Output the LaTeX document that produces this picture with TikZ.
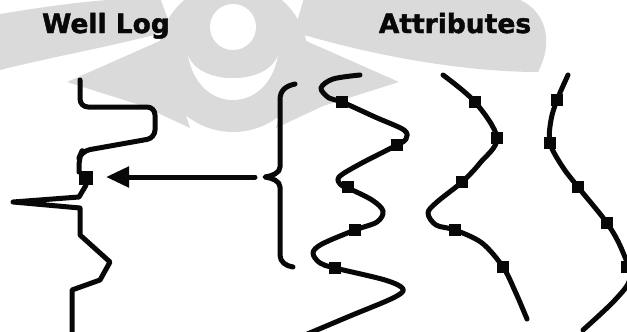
\documentclass[tikz,border=0pt]{standalone}
\usepackage{fontspec}
\setmainfont{DejaVu Sans}
\newfontfamily\titlefont[FakeBold=1.6]{DejaVu Sans Bold}
\usetikzlibrary{arrows.meta}
\definecolor{wm}{RGB}{218,218,218}
\definecolor{ink}{RGB}{8,8,8}
\begin{document}
\begin{tikzpicture}[x=1pt,y=-1pt,
  inkline/.style={draw=ink,line width=5pt,line cap=round,line join=round},
  sq/.style={fill=ink,inner sep=0pt,minimum size=12pt},
  title/.style={font=\titlefont\fontsize{26.5}{26.5}\selectfont,anchor=base,inner sep=0pt,text=ink}]
\useasboundingbox (0,0) rectangle (627,332);
\clip (0,0) rectangle (627,332);
% watermark
\fill[wm] (233,57) circle[radius=75pt];
\fill[white] (233,27) circle[radius=23pt];
\fill[white] (188,55) .. controls (198,115) and (268,115) .. (278,55) .. controls (268,86) and (198,86) .. (188,55) -- cycle;
\fill[wm] (0,14) .. controls (50,6) and (100,-2) .. (160,-2) -- (172,30) .. controls (120,45) and (60,55) .. (0,70) -- cycle;
\fill[wm] (67,82) -- (162,40) -- (190,128) -- (143,106) -- cycle;
\fill[wm] (304,-2) -- (515,-2) .. controls (545,8) and (555,40) .. (538,72) .. controls (470,72) and (380,58) .. (294,32) -- cycle;
\fill[wm] (399,82) -- (304,40) -- (276,128) -- (323,106) -- cycle;
% titles
\node[title] (wl) at (106,33) {Well Log};
\node[title] (at) at (455,33) {Attributes};
% well log
\draw[inkline,rounded corners=8pt] (80,80) -- (80,107) -- (155,107) -- (155,138) -- (82,151) -- (79,158) -- (79,172);
\node[sq,minimum size=14pt] (dot) at (86,178) {};
\draw[inkline] (dot.south) -- (79,197) -- (13,202) -- (80,208) -- (80,235) -- (110,262) -- (100,280) -- (72,290) -- (72,334);
\coordinate (lp) at (106,177);
% brace
\draw[inkline] (295,84) .. controls (286,86) and (280,90) .. (280,100) -- (280,167) .. controls (280,173) and (272,176) .. (265,177) .. controls (272,178) and (280,181) .. (280,187) -- (280,255) .. controls (280,262) and (286,266) .. (293,267);
\coordinate (bm) at (255,177);
\draw[inkline,-{Triangle[length=23pt,width=20pt]}] (bm) -- (lp);
% attribute curves
\draw[inkline] plot[smooth,tension=0.55] coordinates {(360,75) (333,79) (321,88) (329,98) (342,102) (375,117) (404,130) (406,139) (397,145) (360,164) (339,177) (341,185) (348,188) (372,200) (383,211) (377,222) (355,230) (322,244) (313,253) (320,263) (335,268) (385,280) (403,289) (393,298) (350,316) (305,335)};
\draw[inkline] plot[smooth,tension=0.55] coordinates {(443,75) (475,102) (497,138) (480,163) (462,182) (437,202) (428,213) (436,225) (455,230) (482,243) (503,267) (515,291) (527,319)};
\draw[inkline] plot[smooth,tension=0.55] coordinates {(568,75) (557,100) (551,120) (550,143) (562,166) (578,187) (607,223) (622,250) (630,278) (615,300) (583,330)};
% markers
\foreach \n/\p in {a1/{(342,102)},a2/{(397,145)},a3/{(348,187)},a4/{(355,230)},a5/{(335,268)},
  b1/{(475,102)},b2/{(497,138)},b3/{(462,182)},b4/{(455,230)},b5/{(503,267)},
  c1/{(557,100)},c2/{(550,143)},c3/{(578,187)},c4/{(607,223)},c5/{(627,267)}}
  \node[sq] (\n) at \p {};
\end{tikzpicture}
\end{document}
